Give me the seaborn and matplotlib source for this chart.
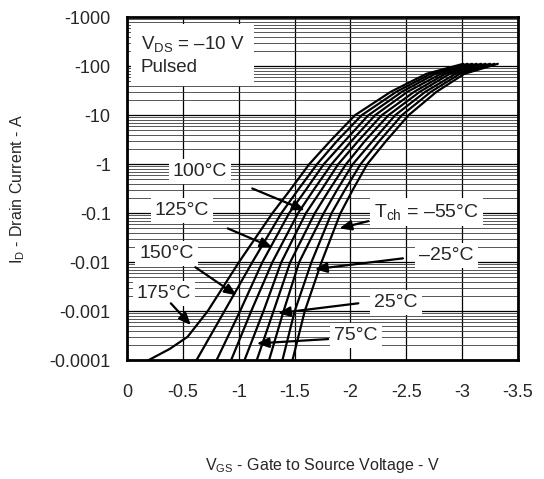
import numpy as np
import pandas as pd
import matplotlib
matplotlib.use("Agg")
import matplotlib.pyplot as plt
import matplotlib.ticker as mticker
import seaborn as sns

id_levels = [0.0001, 0.001, 0.01, 0.1, 0.3, 1, 3, 10, 30, 70, 112]
id_175 = [0.0001, 0.00017, 0.0003, 0.001, 0.01, 0.1, 0.3, 1, 3, 10, 30, 70, 112]

# gate to source voltage (V) per channel temperature
vgs_175 = [-0.19, -0.38, -0.54, -0.72, -1.00, -1.30, -1.46, -1.63, -1.82, -2.04, -2.36, -2.68, -3.01]
vgs_150 = [-0.62, -0.87, -1.12, -1.38, -1.53, -1.70, -1.88, -2.10, -2.41, -2.72, -3.05]
vgs_125 = [-0.80, -1.01, -1.21, -1.45, -1.60, -1.76, -1.95, -2.16, -2.46, -2.76, -3.09]
vgs_100 = [-0.93, -1.11, -1.30, -1.53, -1.67, -1.83, -2.01, -2.22, -2.51, -2.81, -3.13]
vgs_75 = [-1.05, -1.22, -1.38, -1.60, -1.74, -1.89, -2.07, -2.28, -2.57, -2.85, -3.17]
vgs_50 = [-1.16, -1.31, -1.46, -1.68, -1.81, -1.96, -2.13, -2.34, -2.62, -2.89, -3.21]
vgs_25 = [-1.27, -1.40, -1.54, -1.76, -1.88, -2.02, -2.20, -2.40, -2.67, -2.94, -3.25]
vgs_m25 = [-1.39, -1.50, -1.65, -1.83, -1.95, -2.09, -2.26, -2.46, -2.72, -2.98, -3.29]
vgs_m55 = [-1.48, -1.59, -1.74, -1.91, -2.02, -2.15, -2.32, -2.52, -2.77, -3.02, -3.32]

x_ticks = [0, -0.5, -1, -1.5, -2, -2.5, -3, -3.5]
x_labels = ["0", "-0.5", "-1", "-1.5", "-2", "-2.5", "-3", "-3.5"]
y_ticks = [1e-4, 1e-3, 1e-2, 1e-1, 1, 10, 100, 1000]
y_labels = ["-0.0001", "-0.001", "-0.01", "-0.1", "-1", "-10", "-100", "-1000"]

curves = [
    (175, id_175, vgs_175),
    (150, id_levels, vgs_150),
    (125, id_levels, vgs_125),
    (100, id_levels, vgs_100),
    (75, id_levels, vgs_75),
    (50, id_levels, vgs_50),
    (25, id_levels, vgs_25),
    (-25, id_levels, vgs_m25),
    (-55, id_levels, vgs_m55),
]
df = pd.concat(
    [pd.DataFrame({"vgs": v, "id": i, "tch": t}) for t, i, v in curves],
    ignore_index=True,
)

sns.set_theme(style="white")
plt.rcParams["font.family"] = ["Liberation Sans", "DejaVu Sans"]
plt.rcParams["mathtext.fontset"] = "custom"
plt.rcParams["mathtext.rm"] = "Liberation Sans"

fig = plt.figure(figsize=(5.44, 4.79), dpi=100)
ax = fig.add_axes([0.234, 0.248, 0.718, 0.716])

sns.lineplot(data=df, x="vgs", y="id", units="tch", estimator=None, sort=False,
             color="black", linewidth=1.6, ax=ax, zorder=3)

ax.set_yscale("log")
ax.set_ylim(1e-4, 1e3)
ax.set_xlim(0, -3.5)

ax.set_xticks(x_ticks)
ax.set_xticklabels(x_labels, fontsize=13)
ax.set_yticks(y_ticks)
ax.set_yticklabels(y_labels, fontsize=13)
ax.yaxis.set_minor_locator(mticker.LogLocator(base=10, subs=np.arange(2, 10), numticks=20))
ax.yaxis.set_minor_formatter(mticker.NullFormatter())
ax.tick_params(which="both", length=0)
ax.tick_params(axis="x", pad=17)
ax.tick_params(axis="y", pad=12)

ax.grid(which="major", color="black", linewidth=0.9)
ax.grid(which="minor", axis="y", color="#3a3a3a", linewidth=0.6)
ax.set_axisbelow(True)
for s in ax.spines.values():
    s.set_color("black")
    s.set_linewidth(2.0)

ax.set_xlabel(r"$\mathregular{V_{GS}}$ - Gate to Source Voltage - V", fontsize=11.5, labelpad=40)
ax.set_ylabel(r"$\mathregular{I_D}$ - Drain Current - A", fontsize=11.5, labelpad=16)

box = dict(facecolor="white", edgecolor="none", pad=3)
ax.text(0.035, 0.95, "$\\mathregular{V_{DS}}$ = \u201310 V\nPulsed", transform=ax.transAxes,
        fontsize=13.5, ha="left", va="top", linespacing=1.35,
        bbox=dict(facecolor="white", edgecolor="none", pad=7), zorder=5)

# (label, text pos, arrow start, arrow tip) in data coords
notes = [
    ("100\u00b0C", (-0.65, 0.72), (-1.12, 0.32), (-1.59, 0.115)),
    ("125\u00b0C", (-0.49, 0.115), (-0.90, 0.049), (-1.30, 0.020)),
    ("150\u00b0C", (-0.35, 0.015), (-0.61, 0.0079), (-0.98, 0.0021)),
    ("175\u00b0C", (-0.33, 0.0023), (-0.39, 0.00145), (-0.57, 0.00052)),
    ("$\\mathregular{T_{ch}}$ = \u201355\u00b0C", (-2.68, 0.105), (-2.16, 0.069), (-1.90, 0.049)),
    ("\u201325\u00b0C", (-2.86, 0.0139), (-2.47, 0.012), (-1.68, 0.0072)),
    ("25\u00b0C", (-2.41, 0.0015), (-2.07, 0.00145), (-1.35, 0.00091)),
    ("75\u00b0C", (-2.05, 0.00032), (-1.80, 0.00027), (-1.16, 0.00022)),
]
for label, txt_pos, start, tip in notes:
    ax.text(txt_pos[0], txt_pos[1], label, fontsize=14, ha="center", va="center",
            bbox=box, zorder=5)
    ax.annotate("", xy=tip, xytext=start,
                arrowprops=dict(arrowstyle="-|>,head_length=0.6,head_width=0.25",
                                color="black", lw=1.6, shrinkA=0, shrinkB=0),
                zorder=6)

fig.savefig("out.png", dpi=100)
